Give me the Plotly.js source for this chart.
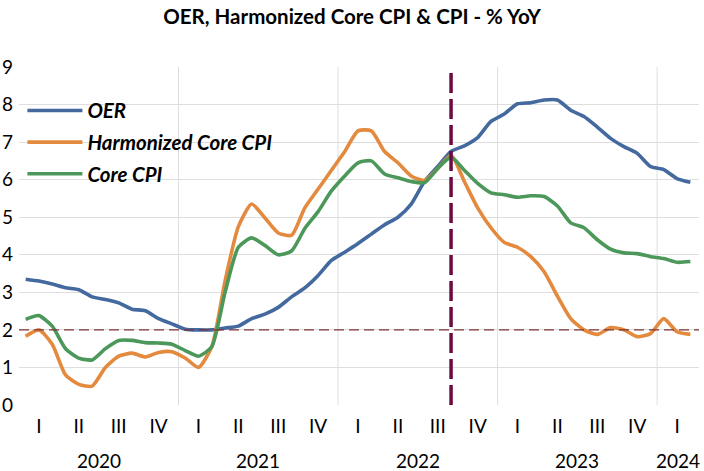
<!DOCTYPE html>
<html>
<head>
<meta charset="utf-8">
<script src="https://cdn.plot.ly/plotly-3.0.1.min.js"></script>
<style>html,body{margin:0;padding:0;background:#fff;}#chart{width:704px;height:471px;}</style>
</head>
<body>
<div id="chart"></div>
<script>
// Monthly categories (Jan 2020 – Mar 2024)
const months = [
  '2020-01','2020-02','2020-03','2020-04','2020-05','2020-06','2020-07','2020-08','2020-09','2020-10','2020-11','2020-12',
  '2021-01','2021-02','2021-03','2021-04','2021-05','2021-06','2021-07','2021-08','2021-09','2021-10','2021-11','2021-12',
  '2022-01','2022-02','2022-03','2022-04','2022-05','2022-06','2022-07','2022-08','2022-09','2022-10','2022-11','2022-12',
  '2023-01','2023-02','2023-03','2023-04','2023-05','2023-06','2023-07','2023-08','2023-09','2023-10','2023-11','2023-12',
  '2024-01','2024-02','2024-03'
];

// % YoY values
const oer = [
  3.35,3.30,3.22,3.12,3.07,2.88,2.81,2.72,2.55,2.51,2.30,2.16,
  2.02,2.00,2.00,2.05,2.10,2.30,2.42,2.60,2.88,3.12,3.45,3.85,
  4.07,4.30,4.55,4.80,5.00,5.35,5.95,6.35,6.75,6.90,7.12,7.55,
  7.75,8.02,8.05,8.12,8.12,7.85,7.68,7.40,7.10,6.88,6.70,6.35,
  6.27,6.03,5.93
];
const harmonizedCore = [
  1.83,2.00,1.62,0.80,0.55,0.50,1.00,1.30,1.38,1.28,1.40,1.42,
  1.25,1.00,1.55,3.30,4.75,5.35,4.98,4.58,4.52,5.25,5.75,6.25,
  6.75,7.30,7.30,6.75,6.45,6.10,5.98,6.30,6.65,5.95,5.25,4.72,
  4.33,4.20,3.95,3.55,2.90,2.30,2.00,1.88,2.06,2.00,1.82,1.90,
  2.30,1.95,1.88
];
const coreCpi = [
  2.28,2.38,2.10,1.50,1.25,1.20,1.50,1.72,1.72,1.66,1.65,1.62,
  1.45,1.30,1.55,3.00,4.20,4.45,4.25,4.00,4.10,4.70,5.15,5.70,
  6.10,6.45,6.50,6.15,6.05,5.95,5.92,6.30,6.60,6.25,5.90,5.65,
  5.60,5.53,5.57,5.55,5.30,4.85,4.72,4.40,4.15,4.05,4.03,3.95,
  3.90,3.80,3.82
];

const seriesNames = ['OER', 'Harmonized Core CPI', 'Core CPI'];
const quarterLabels = ['I', 'II', 'III', 'IV'];
const years = ['2020', '2021', '2022', '2023', '2024'];
const referenceLevel = 2;          // horizontal dashed line (% YoY)
const markerMonth = '2022-09';     // vertical dashed line

// ---- build ----
const xs = months.map((m, i) => i + 0.5);
const xMax = months.length + 0.15;
const colors = ['#44699f', '#e38a3e', '#4c975a'];
const font = "Lato, 'Liberation Sans', sans-serif";

const traces = [oer, harmonizedCore, coreCpi].map((vals, k) => ({
  type: 'scatter', mode: 'lines', x: xs, y: vals, name: seriesNames[k],
  legendgroup: 'g' + k,
  line: { color: colors[k], width: 3.6, shape: 'spline', smoothing: 0.6 },
  hoverinfo: 'skip'
}));
// grid-only axis (lines at 1..8)
traces.push({ type: 'scatter', x: [0], y: [0], yaxis: 'y2', mode: 'none', showlegend: false, hoverinfo: 'skip' });

const qvals = [], ticktext = [];
months.forEach((m, i) => {
  const mo = parseInt(m.slice(5), 10);
  if ((mo - 1) % 3 === 1) { qvals.push(i + 0.5); ticktext.push(quarterLabels[(mo - 2) / 3]); }
});

const shapes = [];
const annotations = [];
years.forEach((y, k) => {
  const start = months.indexOf(y + '-01');
  const end = Math.min(start + 12, xMax);
  if (start > 0) {
    shapes.push({ type: 'line', xref: 'x', yref: 'paper', x0: start, x1: start, y0: 0, y1: 1,
      line: { color: '#dedede', width: 1 }, layer: 'below' });
  }
  annotations.push({ xref: 'x', yref: 'paper', x: (start + end) / 2, y: 0, yanchor: 'top', yshift: -42,
    text: y, showarrow: false, font: { family: font, size: 19, color: '#000' } });
});
shapes.push({ type: 'line', xref: 'paper', yref: 'y', x0: 0, x1: 1, y0: referenceLevel, y1: referenceLevel,
  line: { color: '#7d3535', width: 1.3, dash: '10px,5px' } });
const mi = months.indexOf(markerMonth) + 0.5;
shapes.push({ type: 'line', xref: 'x', yref: 'paper', x0: mi, x1: mi, y0: 0, y1: 1,
  line: { color: '#6f0a40', width: 3.5, dash: '20px,6px' } });

const layout = {
  width: 704, height: 471,
  margin: { l: 19, r: 5, t: 67, b: 66 },
  paper_bgcolor: '#fff', plot_bgcolor: '#fff',
  font: { family: font, color: '#000' },
  title: { text: '<b>OER, Harmonized Core CPI & CPI - % YoY</b>', xref: 'container', x: 0.5, xanchor: 'center',
    yref: 'container', y: 0.965, yanchor: 'middle', font: { family: font, size: 20.5, color: '#000' } },
  xaxis: { range: [0, xMax], tickvals: qvals, ticktext: ticktext, showgrid: false, zeroline: false,
    showline: false, ticks: '', ticklabelstandoff: 8, tickfont: { family: font, size: 19, color: '#000' }, fixedrange: true },
  yaxis: { range: [0, 9], tickvals: [0,1,2,3,4,5,6,7,8,9], showgrid: false, zeroline: false, showline: false,
    ticks: '', ticklabelstandoff: 5, tickfont: { family: font, size: 19, color: '#000' }, fixedrange: true },
  yaxis2: { range: [0, 9], overlaying: 'y', tickvals: [1,2,3,4,5,6,7,8], showgrid: true, gridcolor: '#dedede',
    gridwidth: 1, showticklabels: false, zeroline: false, showline: false, ticks: '' },
  showlegend: true,
  legend: { x: 0.005, y: 0.93, xanchor: 'left', yanchor: 'top', bgcolor: 'rgba(0,0,0,0)',
    tracegroupgap: 2, itemwidth: 55,
    font: { family: font, size: 20.5, color: '#000', weight: 'bold', style: 'italic' } },
  shapes: shapes,
  annotations: annotations
};

Plotly.newPlot('chart', traces, layout, { staticPlot: true, displayModeBar: false });
</script>
</body>
</html>
